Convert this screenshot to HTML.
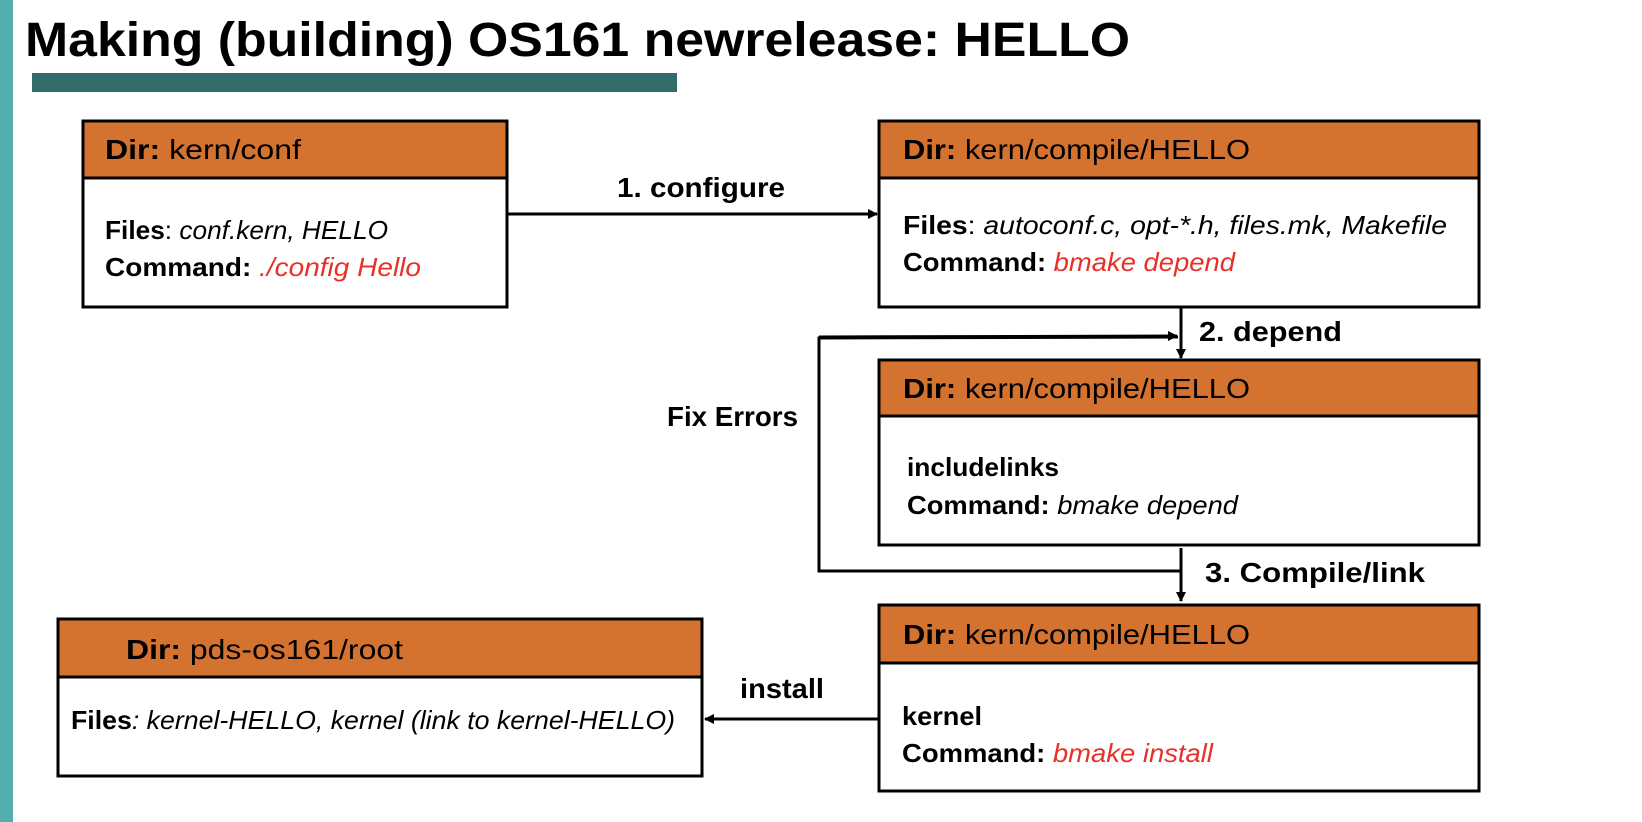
<!DOCTYPE html>
<html><head><meta charset="utf-8"><style>
html,body{margin:0;padding:0;background:#fff;width:1642px;height:822px;overflow:hidden}
svg{display:block}
text{font-family:"Liberation Sans",sans-serif}
</style></head><body>
<svg width="1642" height="822" viewBox="0 0 1642 822" xmlns="http://www.w3.org/2000/svg">
<defs>
<marker id="ah" markerWidth="10" markerHeight="10" refX="9" refY="5" orient="auto" markerUnits="userSpaceOnUse">
<path d="M0,0 L10,5 L0,10 z" fill="#000"/></marker>
</defs>
<rect x="0" y="0" width="13" height="822" fill="#55aeae"/>
<text x="25" y="56" font-size="48" font-weight="bold" textLength="1105" lengthAdjust="spacingAndGlyphs">Making (building) OS161  newrelease: HELLO</text>
<rect x="32" y="73" width="645" height="19" fill="#336b6b"/>

<g stroke="#000" stroke-width="3">
<rect x="83" y="121" width="424" height="186" fill="#fff"/>
<rect x="83" y="121" width="424" height="57" fill="#d4722f"/>
<rect x="879" y="121" width="600" height="186" fill="#fff"/>
<rect x="879" y="121" width="600" height="57" fill="#d4722f"/>
<rect x="879" y="360" width="600" height="185" fill="#fff"/>
<rect x="879" y="360" width="600" height="56" fill="#d4722f"/>
<rect x="879" y="605" width="600" height="186" fill="#fff"/>
<rect x="879" y="605" width="600" height="58" fill="#d4722f"/>
<rect x="58" y="619" width="644" height="157" fill="#fff"/>
<rect x="58" y="619" width="644" height="58" fill="#d4722f"/>
</g>
<g stroke="#000" stroke-width="3" fill="none">
<line x1="507" y1="214" x2="877" y2="214" marker-end="url(#ah)"/>
<line x1="1181" y1="307" x2="1181" y2="358" marker-end="url(#ah)"/>
<polyline points="1178,337 819,338 819,571 1181,571"/>
<line x1="819" y1="337" x2="1177" y2="336" marker-end="url(#ah)"/>
<line x1="1181" y1="548" x2="1181" y2="601" marker-end="url(#ah)"/>
<line x1="879" y1="719" x2="705" y2="719" marker-end="url(#ah)"/>
</g>

<g font-size="28">
<text x="105" y="159" textLength="196" lengthAdjust="spacingAndGlyphs"><tspan font-weight="bold">Dir:</tspan> kern/conf</text>
<text x="903" y="159" textLength="347" lengthAdjust="spacingAndGlyphs"><tspan font-weight="bold">Dir:</tspan> kern/compile/HELLO</text>
<text x="903" y="398" textLength="347" lengthAdjust="spacingAndGlyphs"><tspan font-weight="bold">Dir:</tspan> kern/compile/HELLO</text>
<text x="903" y="644" textLength="347" lengthAdjust="spacingAndGlyphs"><tspan font-weight="bold">Dir:</tspan> kern/compile/HELLO</text>
<text x="126" y="659" textLength="277" lengthAdjust="spacingAndGlyphs"><tspan font-weight="bold">Dir:</tspan> pds-os161/root</text>
</g>
<g font-size="26">
<text x="105" y="239" textLength="283" lengthAdjust="spacingAndGlyphs"><tspan font-weight="bold">Files</tspan>: <tspan font-style="italic">conf.kern, HELLO</tspan></text>
<text x="105" y="276" textLength="316" lengthAdjust="spacingAndGlyphs"><tspan font-weight="bold">Command: </tspan><tspan font-style="italic" fill="#e8302a">./config Hello</tspan></text>
<text x="903" y="234" textLength="544" lengthAdjust="spacingAndGlyphs"><tspan font-weight="bold">Files</tspan>: <tspan font-style="italic">autoconf.c, opt-*.h, files.mk, Makefile</tspan></text>
<text x="903" y="271" textLength="332" lengthAdjust="spacingAndGlyphs"><tspan font-weight="bold">Command: </tspan><tspan font-style="italic" fill="#e8302a">bmake depend</tspan></text>
<text x="907" y="476" font-weight="bold" textLength="152" lengthAdjust="spacingAndGlyphs">includelinks</text>
<text x="907" y="514" textLength="331" lengthAdjust="spacingAndGlyphs"><tspan font-weight="bold">Command: </tspan><tspan font-style="italic">bmake depend</tspan></text>
<text x="902" y="725" font-weight="bold" textLength="80" lengthAdjust="spacingAndGlyphs">kernel</text>
<text x="902" y="762" textLength="311" lengthAdjust="spacingAndGlyphs"><tspan font-weight="bold">Command: </tspan><tspan font-style="italic" fill="#e8302a">bmake install</tspan></text>
<text x="71" y="729" textLength="604" lengthAdjust="spacingAndGlyphs"><tspan font-weight="bold">Files</tspan><tspan font-style="italic">: kernel-HELLO, kernel (link to kernel-HELLO)</tspan></text>
</g>
<g font-size="28" font-weight="bold">
<text x="617" y="197" textLength="168" lengthAdjust="spacingAndGlyphs">1. configure</text>
<text x="1199" y="341" textLength="143" lengthAdjust="spacingAndGlyphs">2. depend</text>
<text x="667" y="426" textLength="131" lengthAdjust="spacingAndGlyphs">Fix Errors</text>
<text x="1205" y="582" textLength="220" lengthAdjust="spacingAndGlyphs">3. Compile/link</text>
<text x="740" y="698" textLength="84" lengthAdjust="spacingAndGlyphs">install</text>
</g>
</svg>
</body></html>
